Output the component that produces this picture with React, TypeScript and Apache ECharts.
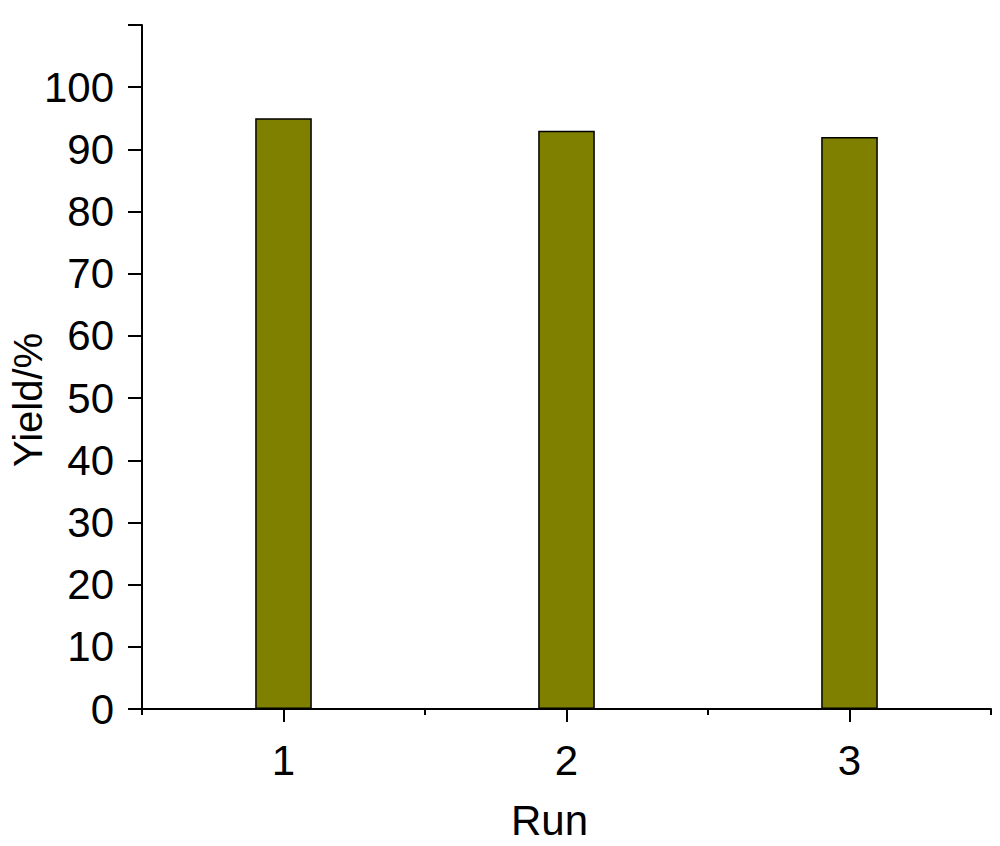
import React, { useEffect, useRef } from "react";
import * as echarts from "echarts";

const runs = ["1", "2", "3"];
const yieldValues = [95, 93, 92];
const yMin = 0;
const yMax = 110;
const yInterval = 10;

export default function App() {
  const ref = useRef<HTMLDivElement>(null);
  useEffect(() => {
    if (!ref.current) return;
    const chart = echarts.init(ref.current, null, { renderer: "svg" });
    const font = "'Liberation Sans', Arial, sans-serif";
    chart.setOption({
      animation: false,
      backgroundColor: "#ffffff",
      grid: {
        left: 142,
        right: 9,
        top: 25,
        bottom: 137,
        containLabel: false,
        outerBoundsMode: "none",
      },
      xAxis: [
        {
          type: "category",
          data: runs,
          position: "bottom",
          name: "Run",
          nameLocation: "middle",
          nameGap: 90,
          nameMoveOverlap: false,
          nameTextStyle: { color: "#000", fontSize: 42, fontFamily: font, padding: [0, 34, 0, 0] },
          axisLine: { show: true, lineStyle: { color: "#000", width: 2 } },
          axisTick: { show: true, alignWithLabel: true, length: 13, lineStyle: { color: "#000", width: 2 } },
          axisLabel: { color: "#000", fontSize: 42, fontFamily: font, margin: 30 },
          splitLine: { show: false },
        },
        {
          type: "category",
          data: runs,
          position: "bottom",
          axisLine: { show: false },
          axisTick: { show: true, alignWithLabel: false, length: 6, lineStyle: { color: "#000", width: 2 } },
          axisLabel: { show: false },
          splitLine: { show: false },
        },
      ],
      yAxis: {
        type: "value",
        min: yMin,
        max: yMax,
        interval: yInterval,
        name: "Yield/%",
        nameLocation: "middle",
        nameGap: 94,
        nameMoveOverlap: false,
        nameTextStyle: { color: "#000", fontSize: 40, fontFamily: font, padding: [0, 66, 0, 0] },
        axisLine: { show: true, lineStyle: { color: "#000", width: 2 } },
        axisTick: { show: true, length: 14, lineStyle: { color: "#000", width: 2 } },
        axisLabel: {
          color: "#000",
          fontSize: 42,
          fontFamily: font,
          margin: 28,
          formatter: (v: number) => (v > 100 ? "" : String(v)),
        },
        splitLine: { show: false },
      },
      series: [
        {
          type: "bar",
          data: yieldValues,
          xAxisIndex: 0,
          barWidth: "20%",
          itemStyle: { color: "#808000", borderColor: "#000", borderWidth: 1.5 },
        },
      ],
    });
    return () => chart.dispose();
  }, []);
  return (
    <div
      ref={ref}
      style={{ position: "absolute", left: 0, top: 0, width: 1000, height: 846 }}
    />
  );
}
